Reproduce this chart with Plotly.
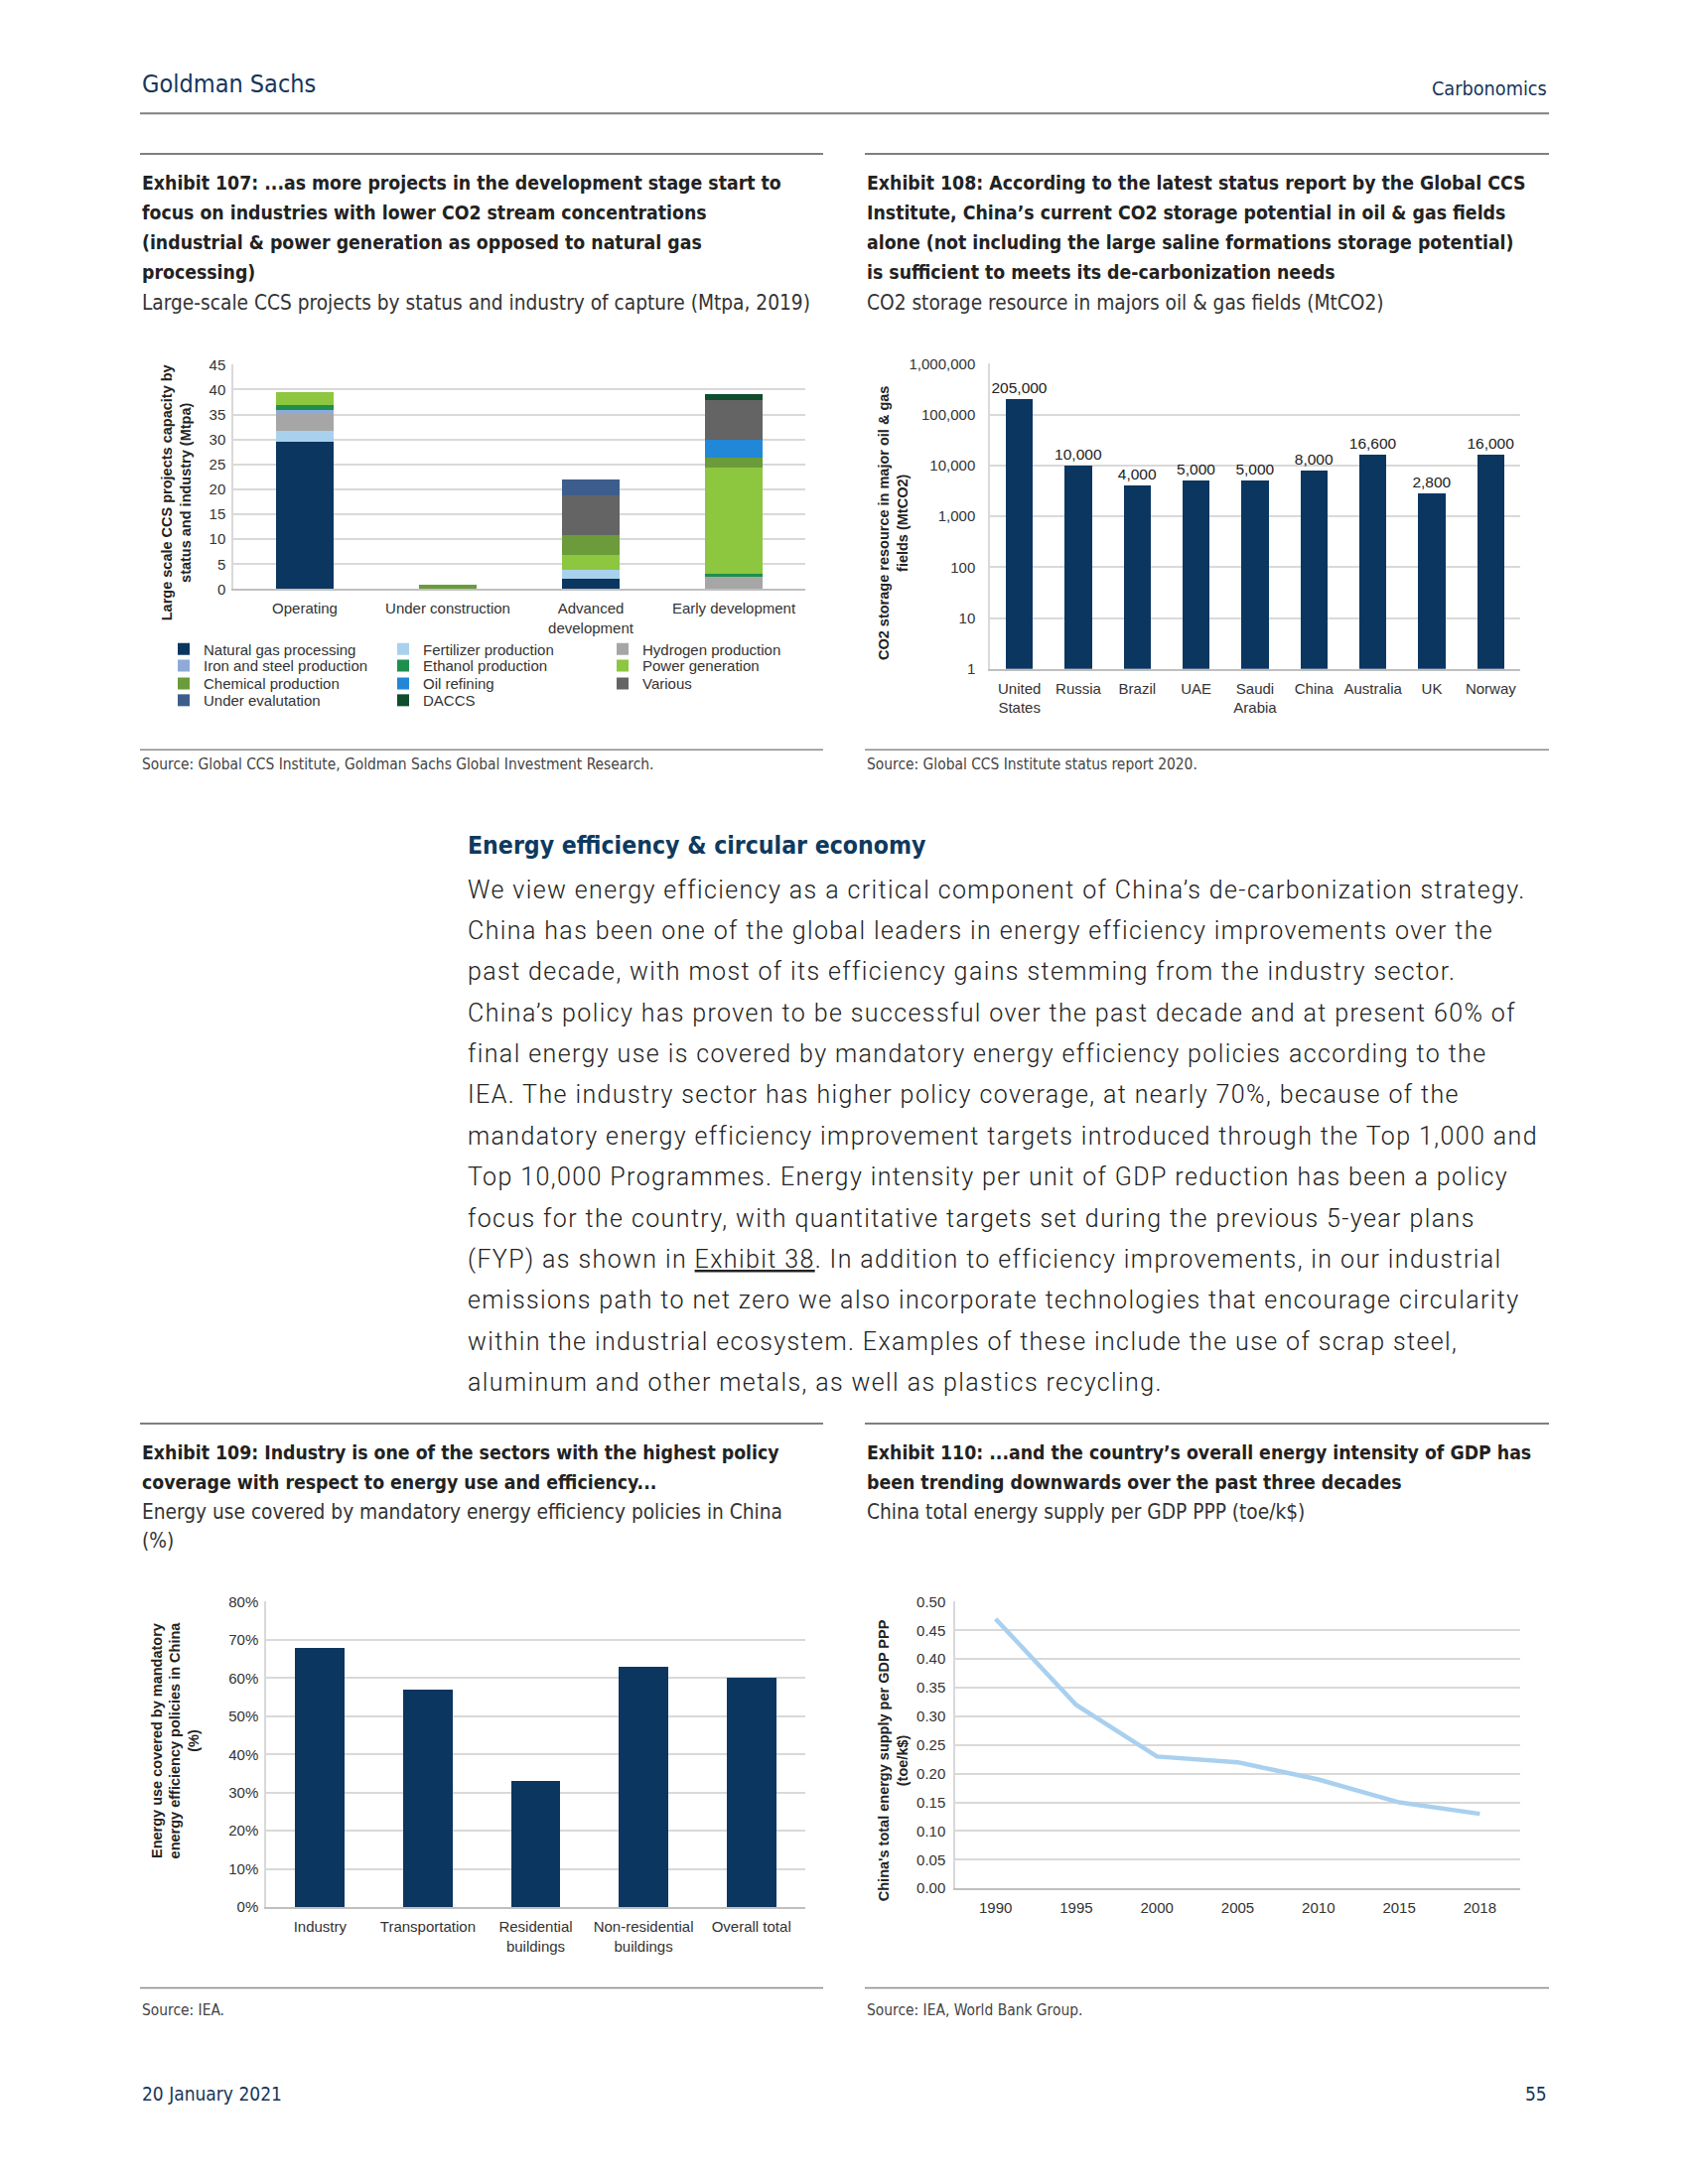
import plotly.graph_objects as go

# The page keeps the browser's default 8px body margin, so the figure is sized
# to fill the 1700x2200 window exactly and positions are given in page pixels.
PAGE_W, PAGE_H, OFF = 1700, 2200, 8
W, H = PAGE_W - 2 * OFF, PAGE_H - 2 * OFF


def X(px):
    return (px - OFF) / W


def Y(py):
    return 1 - (py - OFF) / H


# ---------------- DATA ----------------
# Exhibit 107
ex107_categories = ["Operating", "Under construction", "Advanced<br>development", "Early development"]
ex107_series = ["Natural gas processing", "Fertilizer production", "Hydrogen production",
                "Iron and steel production", "Ethanol production", "Power generation",
                "Chemical production", "Oil refining", "Various",
                "Under evalutation", "DACCS"]
natural_gas = [29.5, 0, 2.0, 0]
fertilizer = [2.2, 0, 1.8, 0]
hydrogen = [3.4, 0, 0, 2.4]
iron_steel = [0.8, 0, 0, 0]
ethanol = [1.0, 0, 0, 0.6]
power_generation = [2.5, 0, 3.1, 21.4]
chemical = [0, 0.8, 4.0, 1.9]
oil_refining = [0, 0, 0, 3.7]
various = [0, 0, 7.9, 7.9]
under_evaluation = [0, 0, 3.2, 0]
daccs = [0, 0, 0, 1.1]
ex107_values = [natural_gas, fertilizer, hydrogen, iron_steel, ethanol, power_generation,
                chemical, oil_refining, various, under_evaluation, daccs]

# Exhibit 108
ex108_countries = ["United<br>States", "Russia", "Brazil", "UAE", "Saudi<br>Arabia",
                   "China", "Australia", "UK", "Norway"]
ex108_storage = [205000, 10000, 4000, 5000, 5000, 8000, 16600, 2800, 16000]
ex108_tickvals = [1, 10, 100, 1000, 10000, 100000, 1000000]
ex108_ticktext = ["1", "10", "100", "1,000", "10,000", "100,000", "1,000,000"]

# Exhibit 109
ex109_sectors = ["Industry", "Transportation", "Residential<br>buildings",
                 "Non-residential<br>buildings", "Overall total"]
ex109_coverage = [68, 57, 33, 63, 60]

# Exhibit 110
ex110_years = ["1990", "1995", "2000", "2005", "2010", "2015", "2018"]
ex110_intensity = [0.47, 0.32, 0.23, 0.22, 0.19, 0.15, 0.13]

# ---------------- STYLE ----------------
NAVY = "#0b3660"
ex107_colors = ["#0b3660", "#a9d1ee", "#a6a6a6", "#8eaad8", "#1d8f4e", "#8dc63f",
                "#6b9b3a", "#2187d7", "#646464", "#3d5e8c", "#0f4d2d"]
ex107_legends = ["legend", "legend", "legend", "legend2", "legend2", "legend2",
                 "legend3", "legend3", "legend3", "legend4", "legend4"]

SANS = "Liberation Sans, Arial, sans-serif"
NARROW = "Liberation Sans Narrow, Arial Narrow, DejaVu Sans Condensed, sans-serif"
BODY = "Roboto, Open Sans, sans-serif"
TEXT_C = "#222222"
TICK_C = "#333333"
GS_BLUE = "#16365a"

fig = go.Figure()

# Exhibit 107 stacked bars
for name, vals, col, lg in zip(ex107_series, ex107_values, ex107_colors, ex107_legends):
    fig.add_trace(go.Bar(
        x=ex107_categories, y=vals, name=name, width=0.4,
        marker=dict(color=col, line=dict(width=0)),
        xaxis="x", yaxis="y", legend=lg, hoverinfo="skip"))

# Exhibit 108 log bars
fig.add_trace(go.Bar(
    x=ex108_countries, y=ex108_storage, width=0.46,
    marker=dict(color=NAVY, line=dict(width=0)),
    texttemplate="%{y:,.0f}", textposition="outside", cliponaxis=False,
    constraintext="none",
    textfont=dict(family=SANS, size=15.5, color=TEXT_C),
    xaxis="x2", yaxis="y2", showlegend=False, hoverinfo="skip"))

# Exhibit 109 bars
fig.add_trace(go.Bar(
    x=ex109_sectors, y=ex109_coverage, width=0.46,
    marker=dict(color=NAVY, line=dict(width=0)),
    xaxis="x3", yaxis="y3", showlegend=False, hoverinfo="skip"))

# Exhibit 110 line
fig.add_trace(go.Scatter(
    x=ex110_years, y=ex110_intensity, mode="lines",
    line=dict(color="#a9d0ef", width=4.5),
    xaxis="x4", yaxis="y4", showlegend=False, hoverinfo="skip"))

tickfont = dict(family=SANS, size=15, color=TICK_C)


def xax(l, r, anchor, **kw):
    d = dict(domain=[X(l), X(r)], anchor=anchor, type="category", showgrid=False,
             zeroline=False, showline=True, linecolor="#bfbfbf", linewidth=2,
             ticks="", tickfont=tickfont, ticklabelstandoff=5, fixedrange=True)
    d.update(kw)
    return d


def yax(b, t, anchor, **kw):
    d = dict(domain=[Y(b), Y(t)], anchor=anchor, showgrid=True, gridcolor="#d9d9d9",
             gridwidth=2, zeroline=False, showline=True, linecolor="#d9d9d9",
             linewidth=1.5, ticks="", tickfont=tickfont, fixedrange=True)
    d.update(kw)
    return d


legend_common = dict(orientation="h", xanchor="left", yanchor="middle",
                     font=dict(family=SANS, size=15, color=TICK_C),
                     entrywidth=176, entrywidthmode="pixels", traceorder="normal",
                     bgcolor="rgba(0,0,0,0)", itemclick=False, itemdoubleclick=False)

fig.update_layout(
    width=W, height=H, margin=dict(l=0, r=0, t=0, b=0),
    paper_bgcolor="white", plot_bgcolor="white",
    barmode="stack",
    xaxis=xax(235, 811, "y"),
    yaxis=yax(589, 361, "x", range=[0, 45], dtick=5, ticklabelstandoff=3),
    xaxis2=xax(997, 1531, "y2"),
    yaxis2=yax(670, 360, "x2", type="log", range=[0, 6], tickvals=ex108_tickvals,
               ticktext=ex108_ticktext, ticklabelstandoff=10),
    xaxis3=xax(268, 811, "y3"),
    yaxis3=yax(1927, 1617, "x3", range=[0, 80], dtick=10, ticksuffix="%", ticklabelstandoff=3),
    xaxis4=xax(962, 1531, "y4", range=[-0.5, 6.5]),
    yaxis4=yax(1908, 1617, "x4", range=[0, 0.5], dtick=0.05, tickformat=".2f", ticklabelstandoff=5),
    legend=dict(legend_common, x=X(165), y=Y(650)),
    legend2=dict(legend_common, x=X(165), y=Y(667)),
    legend3=dict(legend_common, x=X(165), y=Y(685)),
    legend4=dict(legend_common, x=X(165), y=Y(702)),
)

annotations = []
shapes = []


def txt(x, y, text, size, color=TEXT_C, family=SANS, anchor="left", weight=None, angle=0):
    f = dict(family=family, size=size, color=color)
    if weight is not None:
        f["weight"] = weight
    annotations.append(dict(x=X(x), y=Y(y), xref="paper", yref="paper", text=text,
                            showarrow=False, xanchor=anchor, yanchor="middle",
                            font=f, textangle=angle, align="center" if angle else "left"))


def hline(x0, x1, y, color="#7f7f7f", width=2):
    shapes.append(dict(type="line", xref="paper", yref="paper", x0=X(x0), x1=X(x1),
                       y0=Y(y), y1=Y(y), line=dict(color=color, width=width)))


# Header
txt(141, 76, "Goldman Sachs", 25, GS_BLUE, NARROW)
txt(1560, 81, "Carbonomics", 19.7, GS_BLUE, NARROW, anchor="right")
hline(141, 1560, 106, "#7f7f7f", 2)

# Exhibit rules
for (a, b) in [(141, 829), (871, 1560)]:
    hline(a, b, 147, "#7f7f7f", 2)
    hline(a, b, 752, "#8c8c8c", 1.5)
    hline(a, b, 1436, "#7f7f7f", 2)
    hline(a, b, 2009, "#8c8c8c", 1.5)

title_rows = [177, 207, 237, 268]
ex107_title = ["Exhibit 107: ...as more projects in the development stage start to",
               "focus on industries with lower CO2 stream concentrations",
               "(industrial & power generation as opposed to natural gas",
               "processing)"]
ex108_title = ["Exhibit 108: According to the latest status report by the Global CCS",
               "Institute, China’s current CO2 storage potential in oil & gas fields",
               "alone (not including the large saline formations storage potential)",
               "is sufficient to meets its de-carbonization needs"]
for yy, t in zip(title_rows, ex107_title):
    txt(141, yy, "<b>" + t + "</b>", 19.3, TEXT_C, NARROW)
for yy, t in zip(title_rows, ex108_title):
    txt(871, yy, "<b>" + t + "</b>", 19.3, TEXT_C, NARROW)
txt(141, 298, "Large-scale CCS projects by status and industry of capture (Mtpa, 2019)", 20.7, "#333", NARROW)
txt(871, 298, "CO2 storage resource in majors oil & gas fields (MtCO2)", 20.7, "#333", NARROW)

# Exhibit 109 / 110 titles
txt(141, 1466, "<b>Exhibit 109: Industry is one of the sectors with the highest policy</b>", 19.3, TEXT_C, NARROW)
txt(141, 1496, "<b>coverage with respect to energy use and efficiency...</b>", 19.3, TEXT_C, NARROW)
txt(141, 1526, "Energy use covered by mandatory energy efficiency policies in China", 20.7, "#333", NARROW)
txt(141, 1555, "(%)", 20.7, "#333", NARROW)
txt(871, 1466, "<b>Exhibit 110: ...and the country’s overall energy intensity of GDP has</b>", 19.3, TEXT_C, NARROW)
txt(871, 1496, "<b>been trending downwards over the past three decades</b>", 19.3, TEXT_C, NARROW)
txt(871, 1526, "China total energy supply per GDP PPP (toe/k$)", 20.7, "#333", NARROW)

# Sources
txt(141, 767, "Source: Global CCS Institute, Goldman Sachs Global Investment Research.", 15.4, "#444", NARROW)
txt(871, 767, "Source: Global CCS Institute status report 2020.", 15.4, "#444", NARROW)
txt(141, 2032, "Source: IEA.", 15.4, "#444", NARROW)
txt(871, 2032, "Source: IEA, World Bank Group.", 15.4, "#444", NARROW)

# Footer
txt(141, 2116, "20 January 2021", 19, GS_BLUE, NARROW)
txt(1560, 2116, "55", 19, GS_BLUE, NARROW, anchor="right")

# Axis titles (rotated)
txt(177, 491, "<b>Large scale CCS projects capacity by<br>status and industry (Mtpa)</b>", 14.5, TEXT_C, SANS, anchor="center", angle=-90)
txt(900, 522, "<b>CO2 storage resource in major oil & gas<br>fields (MtCO2)</b>", 14.5, TEXT_C, SANS, anchor="center", angle=-90)
txt(177, 1758, "<b>Energy use covered by mandatory<br>energy efficiency policies in China<br>(%)</b>", 14.5, TEXT_C, SANS, anchor="center", angle=-90)
txt(899, 1778, "<b>China's total energy supply per GDP PPP<br>(toe/k$)</b>", 14.5, TEXT_C, SANS, anchor="center", angle=-90)

# Body section
txt(469, 849, "<b>Energy efficiency & circular economy</b>", 24.6, "#0e3a60", NARROW)
body_lines = [
    "We view energy efficiency as a critical component of China’s de-carbonization strategy.",
    "China has been one of the global leaders in energy efficiency improvements over the",
    "past decade, with most of its efficiency gains stemming from the industry sector.",
    "China’s policy has proven to be successful over the past decade and at present 60% of",
    "final energy use is covered by mandatory energy efficiency policies according to the",
    "IEA. The industry sector has higher policy coverage, at nearly 70%, because of the",
    "mandatory energy efficiency improvement targets introduced through the Top 1,000 and",
    "Top 10,000 Programmes. Energy intensity per unit of GDP reduction has been a policy",
    "focus for the country, with quantitative targets set during the previous 5-year plans",
    "(FYP) as shown in <u>Exhibit 38</u>. In addition to efficiency improvements, in our industrial",
    "emissions path to net zero we also incorporate technologies that encourage circularity",
    "within the industrial ecosystem. Examples of these include the use of scrap steel,",
    "aluminum and other metals, as well as plastics recycling.",
]
for i, line in enumerate(body_lines):
    txt(469, 894 + i * 41.7, '<span style="letter-spacing:1.4px">' + line + "</span>",
        25, TEXT_C, BODY, weight=300)

fig.update_layout(annotations=annotations, shapes=shapes)

fig.write_html("out.html")
